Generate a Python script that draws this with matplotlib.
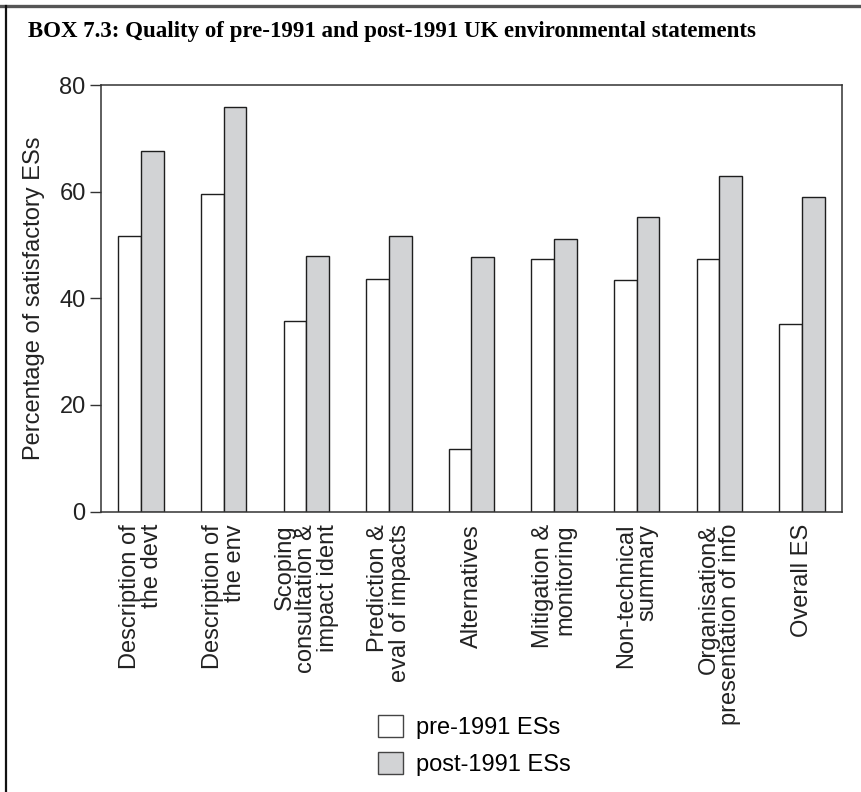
import numpy as np
import matplotlib
matplotlib.use("Agg")
import matplotlib.pyplot as plt
from matplotlib.lines import Line2D
from matplotlib.patches import Patch

categories = [
    "Description of\nthe devt",
    "Description of\nthe env",
    "Scoping\nconsultation &\nimpact ident",
    "Prediction &\neval of impacts",
    "Alternatives",
    "Mitigation &\nmonitoring",
    "Non-technical\nsummary",
    "Organisation&\npresentation of info",
    "Overall ES",
]
pre_1991 = [51.7, 59.6, 35.8, 43.7, 11.8, 47.3, 43.4, 47.3, 35.2]
post_1991 = [67.6, 75.8, 48.0, 51.7, 47.7, 51.2, 55.3, 62.9, 58.9]
series_names = ["pre-1991 ESs", "post-1991 ESs"]
y_ticks = [0, 20, 40, 60, 80]
title = "BOX 7.3: Quality of pre-1991 and post-1991 UK environmental statements"

plt.rcParams["font.family"] = ["Liberation Sans", "DejaVu Sans"]

W, H = 862, 792
fig = plt.figure(figsize=(W / 100, H / 100), dpi=100)
ax = fig.add_axes([101 / W, 1 - 511.5 / H, 741 / W, 426.5 / H])

x = np.arange(len(categories))
bw = 0.275
edge = "#1e1e1e"
ax.bar(x - bw / 2, pre_1991, bw, color="white", edgecolor=edge, linewidth=1.0)
ax.bar(x + bw / 2, post_1991, bw, color="#d2d3d5", edgecolor=edge, linewidth=1.0)

ax.set_xlim(-0.485, len(categories) - 1 + 0.485)
ax.set_ylim(0, 80)
ax.set_yticks(y_ticks)
ax.set_xticks(x)
ax.set_xticklabels(categories, rotation=90, ha="center", va="top",
                   multialignment="right", linespacing=0.98, fontsize=17,
                   color="#222222")
ax.tick_params(axis="x", length=0, pad=9)
ax.tick_params(axis="y", length=8, width=1.0, color="#333333",
               labelsize=17, labelcolor="#222222", pad=3)
for s in ax.spines.values():
    s.set_color("#333333")
    s.set_linewidth(1.1)

ax.set_ylabel("Percentage of satisfactory ESs", fontsize=17, color="#222222")
ax.yaxis.set_label_coords(-0.076, 0.5)

handles = [Patch(facecolor="white", edgecolor="#444444", linewidth=1.0),
           Patch(facecolor="#d2d3d5", edgecolor="#444444", linewidth=1.0)]
fig.legend(handles, series_names, loc="upper left",
           bbox_to_anchor=(357 / W, 1 - 694 / H), frameon=False,
           handlelength=1.06, handleheight=1.06, handletextpad=0.55,
           labelspacing=0.55, prop={"size": 17})

fig.text(28 / W, 1 - 32 / H, title, ha="left", va="center", fontsize=16.5,
         fontweight="bold", family=["Liberation Serif", "DejaVu Serif"])

# box frame
fig.add_artist(Line2D([0, 1], [1 - 5.5 / H, 1 - 5.5 / H], color="#555555",
                      linewidth=2.4, transform=fig.transFigure))
fig.add_artist(Line2D([6.5 / W, 6.5 / W], [0, 1 - 5.5 / H], color="#111111",
                      linewidth=1.6, transform=fig.transFigure))

fig.savefig("out.png", dpi=100)
